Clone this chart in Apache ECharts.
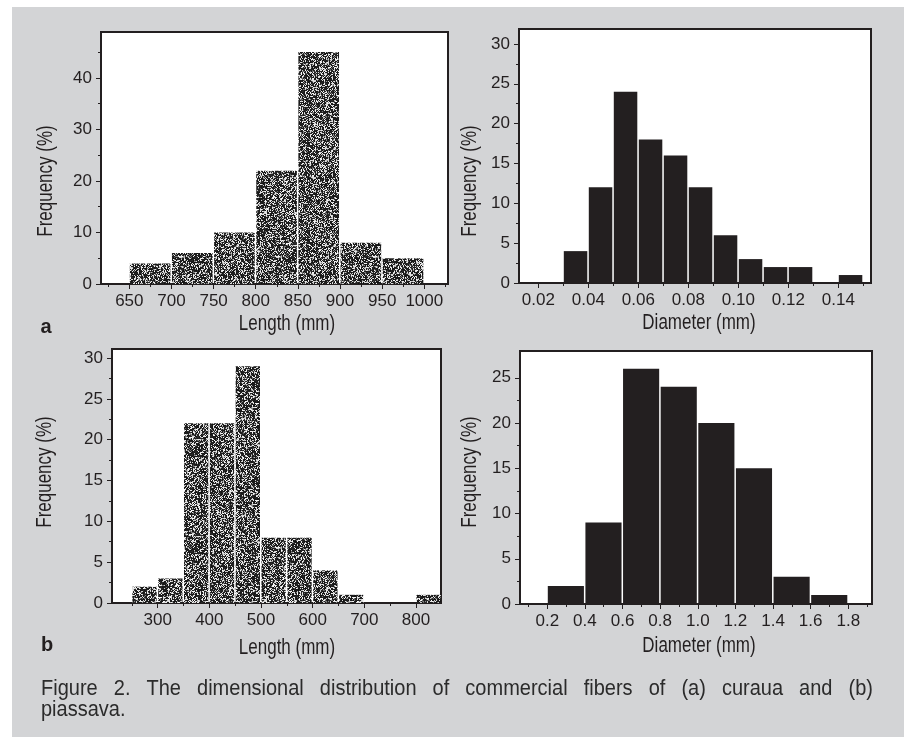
<!DOCTYPE html>
<html>
<head>
<meta charset="utf-8">
<title>Fiber dimensional distribution</title>
<script src="https://cdn.jsdelivr.net/npm/echarts@6/dist/echarts.min.js"></script>
<style>
  html, body { margin: 0; padding: 0; background: #ffffff; }
  #chart { width: 904px; height: 737px; }
</style>
</head>
<body>
<div id="chart"></div>
<script>
// ---- data: histogram bin edges and frequencies (%) ----
// (a) curaua - length
const lenA_edges = [650, 700, 750, 800, 850, 900, 950, 1000];
const lenA_freq  = [4, 6, 10, 22, 45, 8, 5];
// (a) curaua - diameter
const diaA_edges = [0.03, 0.04, 0.05, 0.06, 0.07, 0.08, 0.09, 0.10, 0.11, 0.12, 0.13, 0.14, 0.15];
const diaA_freq  = [4, 12, 24, 18, 16, 12, 6, 3, 2, 2, 0, 1];
// (b) piassava - length
const lenB_edges = [250, 300, 350, 400, 450, 500, 550, 600, 650, 700, 750, 800, 850];
const lenB_freq  = [2, 3, 22, 22, 29, 8, 8, 4, 1, 0, 0, 1];
// (b) piassava - diameter
const diaB_edges = [0.2, 0.4, 0.6, 0.8, 1.0, 1.2, 1.4, 1.6, 1.8];
const diaB_freq  = [2, 9, 26, 24, 20, 15, 3, 1];

// ---- tick values ----
const lenA_xTicks = [650, 700, 750, 800, 850, 900, 950, 1000];
const lenA_xMinor = [625, 675, 725, 775, 825, 875, 925, 975, 1025];
const lenA_yTicks = [0, 10, 20, 30, 40];
const lenA_yMinor = [5, 15, 25, 35, 45];

const diaA_xTicks = [0.02, 0.04, 0.06, 0.08, 0.10, 0.12, 0.14];
const diaA_xMinor = [0.03, 0.05, 0.07, 0.09, 0.11, 0.13, 0.15];
const diaA_yTicks = [0, 5, 10, 15, 20, 25, 30];
const diaA_yMinor = [2.5, 7.5, 12.5, 17.5, 22.5, 27.5];

const lenB_xTicks = [300, 400, 500, 600, 700, 800];
const lenB_xMinor = [250, 350, 450, 550, 650, 750];
const lenB_yTicks = [0, 5, 10, 15, 20, 25, 30];
const lenB_yMinor = [2.5, 7.5, 12.5, 17.5, 22.5, 27.5];

const diaB_xTicks = [0.2, 0.4, 0.6, 0.8, 1.0, 1.2, 1.4, 1.6, 1.8];
const diaB_xMinor = [0.1, 0.3, 0.5, 0.7, 0.9, 1.1, 1.3, 1.5, 1.7, 1.9];
const diaB_yTicks = [0, 5, 10, 15, 20, 25];
const diaB_yMinor = [2.5, 7.5, 12.5, 17.5, 22.5];

// ---- text ----
const yTitle = 'Frequency (%)';
const lenTitle = 'Length (mm)';
const diaTitle = 'Diameter (mm)';
const captionLine1 = 'Figure 2. The dimensional distribution of commercial fibers of (a) curaua and (b)';
const captionLine2 = 'piassava.';

// ---- styling ----
const INK = '#231f20';
const PANEL_BG = '#d3d4d6';
const FONT = '"Liberation Sans", Arial, Helvetica, sans-serif';
const TITLE_STRETCH = 1.28;   // axis titles use a tall, condensed face

// stippled fill used for the length histograms (deterministic speckle)
function makeSpeckle() {
  const size = 97;
  const c = document.createElement('canvas');
  c.width = size; c.height = size;
  const ctx = c.getContext('2d');
  const img = ctx.createImageData(size, size);
  let s = 12345;
  const rnd = () => { s = (s * 1103515245 + 12345) & 0x7fffffff; return s / 0x7fffffff; };
  for (let i = 0; i < size * size; i++) {
    const r = rnd();
    let v;
    if (r < 0.30) v = 190 + Math.floor(rnd() * 65);
    else if (r < 0.40) v = 90 + Math.floor(rnd() * 60);
    else v = 18 + Math.floor(rnd() * 25);
    img.data[i * 4] = v; img.data[i * 4 + 1] = v; img.data[i * 4 + 2] = v; img.data[i * 4 + 3] = 255;
  }
  ctx.putImageData(img, 0, 0);
  return c;
}
const speckle = { image: makeSpeckle(), repeat: 'repeat' };

function binData(edges, freq) {
  return freq.map((f, i) => [edges[i], edges[i + 1], f]);
}

function histSeries(idx, edges, freq, fill) {
  return {
    type: 'custom',
    xAxisIndex: idx * 2,
    yAxisIndex: idx * 2,
    clip: true,
    data: binData(edges, freq),
    encode: { x: [0, 1], y: 2 },
    renderItem: function (params, api) {
      const x0 = api.value(0), x1 = api.value(1), v = api.value(2);
      if (!v) return null;
      const pTop = api.coord([x0, v]);
      const pBot = api.coord([x1, 0]);
      return {
        type: 'rect',
        shape: { x: pTop[0] + 0.5, y: pTop[1], width: pBot[0] - pTop[0] - 1.5, height: pBot[1] - pTop[1] },
        style: { fill: fill }
      };
    }
  };
}

function xAxes(gridIndex, min, max, ticks, minor, digits) {
  return [
    {
      type: 'value', gridIndex, min, max, position: 'bottom',
      axisLine: { show: true, onZero: false, lineStyle: { color: INK, width: 2 } },
      axisTick: { show: true, length: 5, customValues: ticks, lineStyle: { color: INK, width: 1 } },
      axisLabel: {
        show: true, customValues: ticks, margin: 9,
        color: INK, fontSize: 17, fontFamily: FONT,
        formatter: v => digits ? Number(v).toFixed(digits) : String(v)
      },
      splitLine: { show: false }
    },
    {
      type: 'value', gridIndex, min, max, position: 'bottom',
      axisLine: { show: false, onZero: false },
      axisTick: { show: true, length: 3, customValues: minor, lineStyle: { color: INK, width: 1 } },
      axisLabel: { show: false },
      splitLine: { show: false }
    }
  ];
}

function yAxes(gridIndex, max, ticks, minor) {
  return [
    {
      type: 'value', gridIndex, min: 0, max, position: 'left',
      axisLine: { show: true, onZero: false, lineStyle: { color: INK, width: 2 } },
      axisTick: { show: true, length: 5, customValues: ticks, lineStyle: { color: INK, width: 1 } },
      axisLabel: {
        show: true, customValues: ticks, margin: 9,
        color: INK, fontSize: 17, fontFamily: FONT
      },
      splitLine: { show: false }
    },
    {
      type: 'value', gridIndex, min: 0, max, position: 'left',
      axisLine: { show: false, onZero: false },
      axisTick: { show: true, length: 3, customValues: minor, lineStyle: { color: INK, width: 1 } },
      axisLabel: { show: false },
      splitLine: { show: false }
    }
  ];
}

const gridBase = { show: true, backgroundColor: '#ffffff', borderColor: INK, borderWidth: 2 };

function label(text, x, y, opts) {
  return Object.assign({
    type: 'text', x, y, z: 10,
    style: Object.assign({
      text, fill: INK, font: '17px ' + FONT,
      textAlign: 'center', textVerticalAlign: 'middle'
    }, (opts && opts.style) || {})
  }, (opts && opts.props) || {});
}

function xTitle(text, x, y) {
  return label(text, x, y, { props: { scaleY: TITLE_STRETCH } });
}
function yTitleAt(x, y) {
  return label(yTitle, x, y, { props: { rotation: Math.PI / 2, scaleY: TITLE_STRETCH } });
}

// justified caption: words spread between the left and right text margins
function captionGraphics() {
  const font = '20px ' + FONT;
  const ctx = document.createElement('canvas').getContext('2d');
  ctx.font = font;
  const words = captionLine1.split(' ');
  const widths = words.map(w => ctx.measureText(w).width);
  const left = 41, right = 873;
  const total = widths.reduce((a, b) => a + b, 0);
  const gap = (right - left - total) / (words.length - 1);
  const out = [];
  let x = left;
  words.forEach((w, i) => {
    out.push({ type: 'text', x, y: 689, z: 10, scaleY: 1.07,
      style: { text: w, fill: '#2b2b2b', font, textAlign: 'left', textVerticalAlign: 'middle' } });
    x += widths[i] + gap;
  });
  out.push({ type: 'text', x: left, y: 710, z: 10, scaleY: 1.07,
    style: { text: captionLine2, fill: '#2b2b2b', font, textAlign: 'left', textVerticalAlign: 'middle' } });
  return out;
}

const option = {
  animation: false,
  backgroundColor: '#ffffff',
  grid: [
    Object.assign({ left: 101, top: 32, width: 347, height: 252 }, gridBase),
    Object.assign({ left: 519, top: 29, width: 352, height: 254 }, gridBase),
    Object.assign({ left: 112, top: 349, width: 329, height: 254 }, gridBase),
    Object.assign({ left: 520, top: 351, width: 352, height: 253 }, gridBase)
  ],
  xAxis: [].concat(
    xAxes(0, 616.4, 1028.1, lenA_xTicks, lenA_xMinor, 0),
    xAxes(1, 0.01228, 0.15308, diaA_xTicks, diaA_xMinor, 2),
    xAxes(2, 211.6, 848.4, lenB_xTicks, lenB_xMinor, 0),
    xAxes(3, 0.0549, 1.926, diaB_xTicks, diaB_xMinor, 1)
  ),
  yAxis: [].concat(
    yAxes(0, 48.9, lenA_yTicks, lenA_yMinor),
    yAxes(1, 31.87, diaA_yTicks, diaA_yMinor),
    yAxes(2, 31.1, lenB_yTicks, lenB_yMinor),
    yAxes(3, 27.96, diaB_yTicks, diaB_yMinor)
  ),
  series: [
    histSeries(0, lenA_edges, lenA_freq, speckle),
    histSeries(1, diaA_edges, diaA_freq, INK),
    histSeries(2, lenB_edges, lenB_freq, speckle),
    histSeries(3, diaB_edges, diaB_freq, INK)
  ],
  graphic: [
    // figure panel background
    { type: 'rect', shape: { x: 12, y: 7, width: 892, height: 730 }, style: { fill: PANEL_BG }, z: -10, silent: true },
    // axis titles
    xTitle(lenTitle, 287, 324),
    xTitle(diaTitle, 699, 323),
    xTitle(lenTitle, 287, 648),
    xTitle(diaTitle, 699, 646),
    yTitleAt(46, 181),
    yTitleAt(470, 181),
    yTitleAt(45, 472),
    yTitleAt(470, 472),
    // panel letters
    label('a', 46, 327, { style: { font: 'bold 20px ' + FONT } }),
    label('b', 47, 645, { style: { font: 'bold 20px ' + FONT } })
  ].concat(captionGraphics())
};

const chart = echarts.init(document.getElementById('chart'), null, { renderer: 'canvas' });
chart.setOption(option);
</script>
</body>
</html>
